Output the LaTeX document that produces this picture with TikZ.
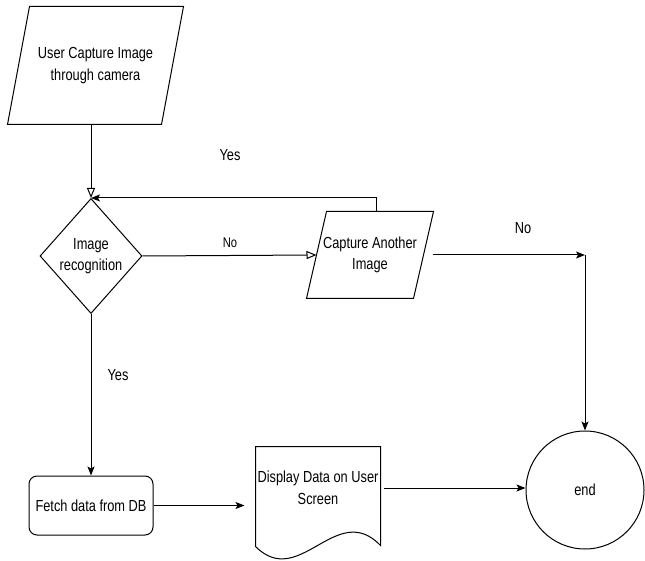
\documentclass[tikz,border=0pt]{standalone}
\usepackage{fontspec}
\setmainfont{Liberation Sans}[FakeStretch=0.8]
\usetikzlibrary{shapes.geometric,arrows.meta,positioning}

% slanted input/output box round a plain node
\newcommand{\slantbox}[2]{%
  \draw ([xshift=#2]#1.north west) -- ([xshift=#2]#1.north east)
     -- ([xshift=-#2]#1.south east) -- ([xshift=-#2]#1.south west) -- cycle;}

\tikzset{
  txt/.style={font=\fontsize{16}{21.5}\selectfont, align=center, inner sep=0pt},
  small/.style={font=\fontsize{14}{16}\selectfont, inner sep=0pt},
  openarr/.style={-{Triangle[open,length=10pt,width=8pt]}},
  fillarr/.style={-{Stealth[length=9pt,width=7pt,inset=2pt]}},
}

\begin{document}
\begin{tikzpicture}[x=1pt,y=-1pt,line width=1pt]
  \useasboundingbox (0,0) rectangle (645,561);

  \node[txt, minimum width=153pt, minimum height=117pt] (inp) at (95.5,65.5)
       {User Capture Image\\through camera};
  \slantbox{inp}{11pt}

  \node[txt, draw, shape=diamond, minimum width=102pt, minimum height=115pt] (dec) at (91,256)
       {Image\\recognition};

  \node[txt, minimum width=106pt, minimum height=86pt] (cap) at (370,255)
       {Capture Another\\Image};
  \slantbox{cap}{10pt}

  \node[txt, draw, rounded corners=8pt, minimum width=124pt, minimum height=59pt] (fetch) at (91,505.5)
       {Fetch data from DB};

  \node[txt, minimum width=124pt, minimum height=82pt] (doc) at (318,488)
       {Display Data on User\\Screen};
  \draw (doc.north west) -- (doc.north east) -- ++(0,99)
     .. controls +(-44,-46) and +(44,44) .. ([yshift=-17pt]doc.south west) -- cycle;

  \node[txt, draw, circle, minimum size=118pt] (end) at (585,490) {end};

  \coordinate (turn) at (end.north |- cap.east);

  % labels
  \node[txt] (lyes1) at (230,155) {Yes};
  \node[small] (lno1) at (230,243) {No};
  \node[txt] (lno2) at (523,228) {No};
  \node[txt] (lyes2) at (118,375) {Yes};

  % connectors
  \draw[openarr] (inp.south -| dec.north) -- (dec.north);
  \draw[openarr] (dec.east) -- (cap.west);
  \draw[fillarr] ([xshift=6pt]cap.north) |- (dec.north);
  \draw[fillarr] ([xshift=9pt]cap.east) -- (turn);
  \draw[fillarr] (turn) -- (end.north);
  \draw[fillarr] (dec.south) -- (fetch.north);
  \draw[fillarr, shorten >=11pt] (fetch.east) -- (fetch.east -| doc.west);
  \draw[fillarr] ([xshift=3pt]doc.east) -- (doc.east -| end.west);
\end{tikzpicture}
\end{document}
